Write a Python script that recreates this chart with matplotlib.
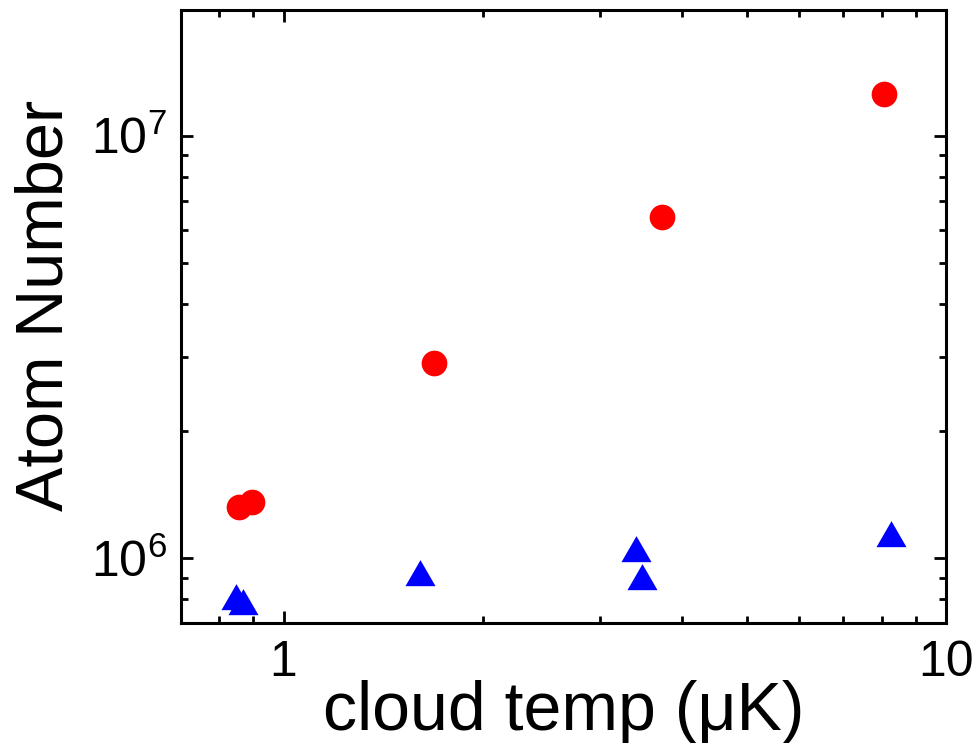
import matplotlib
matplotlib.use("Agg")
import matplotlib.pyplot as plt
from matplotlib.ticker import LogLocator, NullFormatter, FixedLocator

plt.rcParams['font.family'] = ['Liberation Sans', 'DejaVu Sans']
plt.rcParams['mathtext.fontset'] = 'custom'
plt.rcParams['mathtext.rm'] = 'Liberation Sans'
plt.rcParams['mathtext.it'] = 'Liberation Sans:italic'

# data
temp_red = [0.856, 0.897, 1.684, 3.726, 8.06]
atoms_red = [1.32e6, 1.362e6, 2.90e6, 6.43e6, 1.255e7]

temp_blue = [0.846, 0.867, 1.609, 3.407, 3.476, 8.25]
atoms_blue = [7.91e5, 7.73e5, 9.02e5, 1.028e6, 8.86e5, 1.117e6]

xticks = [1, 10]
xticklabels = ["1", "10"]
yticks = [1e6, 1e7]
yticklabels = [r"$\mathregular{10^6}$", r"$\mathregular{10^7}$"]

fig = plt.figure(figsize=(9.79, 7.43), dpi=100)
ax = fig.add_axes([0.1849, 0.1615, 0.7814, 0.8257])

ax.plot(temp_red, atoms_red, linestyle="none", marker="o", ms=18.5,
        color="#ff0000", mew=0)
ax.plot(temp_blue, atoms_blue, linestyle="none", marker=(3, 0, 0), ms=25,
        color="#0000ff", mew=0)

ax.set_xscale("log")
ax.set_yscale("log")
ax.set_xlim(0.7, 10)
ax.set_ylim(7.03e5, 1.99e7)

ax.xaxis.set_major_locator(FixedLocator(xticks))
ax.set_xticklabels(xticklabels)
ax.yaxis.set_major_locator(FixedLocator(yticks))
ax.set_yticklabels(yticklabels)
ax.xaxis.set_minor_locator(LogLocator(base=10, subs=range(2, 10)))
ax.yaxis.set_minor_locator(LogLocator(base=10, subs=range(2, 10)))
ax.xaxis.set_minor_formatter(NullFormatter())
ax.yaxis.set_minor_formatter(NullFormatter())

ax.tick_params(which="both", direction="in", top=True, right=True, width=2)
ax.tick_params(which="major", length=8.6, labelsize=36)
ax.tick_params(which="minor", length=5)
ax.tick_params(axis="x", which="major", pad=12)
ax.tick_params(axis="y", which="major", pad=10)
for s in ax.spines.values():
    s.set_linewidth(2.2)

ax.set_xlabel("cloud temp (μK)", fontsize=49, labelpad=-4)
ax.set_ylabel("Atom Number", fontsize=48)
ax.yaxis.set_label_coords(-0.137, 0.518)

fig.savefig("out.png", dpi=100)
